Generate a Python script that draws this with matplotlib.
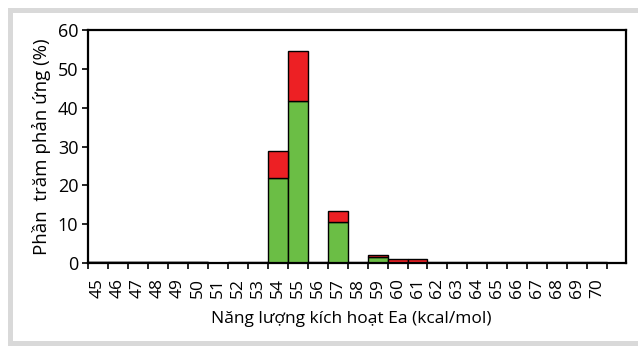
"""Stacked bar chart: reaction percentage vs activation energy."""

import matplotlib
matplotlib.use("Agg")
import matplotlib.pyplot as plt
from matplotlib.lines import Line2D
import numpy as np

energies = list(range(45, 71))
green_vals = [0.3, 0.3, 0.3, 0.3, 0.3, 0.3, 0.0, 0.0, 0.0, 21.8, 41.8, 0.0, 10.6,
              0.0, 1.6, 0.0, 0.0, 0.0, 0.0, 0.0, 0.0, 0.0, 0.0, 0.0, 0.0, 0.0]
red_vals = [0.0, 0.0, 0.0, 0.0, 0.0, 0.0, 0.0, 0.3, 0.3, 7.1, 12.7, 0.3, 2.7,
            0.3, 0.5, 1.0, 1.0, 0.3, 0.3, 0.3, 0.3, 0.3, 0.3, 0.3, 0.3, 0.3]

GREEN = "#6BBE45"
RED = "#ED2024"
FRAME = "#d9d9d9"

plt.rcParams["font.family"] = ["Open Sans", "DejaVu Sans"]

W, H = 638, 350
fig = plt.figure(figsize=(W / 100, H / 100), dpi=100)
fig.patch.set_facecolor("white")

# light gray frame (top, left, bottom; right side runs off the image)
lw = 3.6
for xs, ys in [((10, W), (9.5, 9.5)), ((10, 10), (9.5, 342.5)), ((10, W), (342.5, 342.5))]:
    fig.add_artist(Line2D([v / W for v in xs], [1 - v / H for v in ys],
                          transform=fig.transFigure, color=FRAME,
                          linewidth=lw, solid_capstyle="projecting"))

ax = fig.add_axes([88 / W, 87 / H, 538 / W, 233 / H])

x = np.arange(len(energies))
ax.bar(x, green_vals, width=1.0, color=GREEN, edgecolor="black", linewidth=1.0)
ax.bar(x, red_vals, width=1.0, bottom=green_vals, color=RED,
       edgecolor="black", linewidth=1.0)

ax.set_xlim(-0.35, 26.44)
ax.set_ylim(0, 60)
ax.set_yticks(range(0, 61, 10))

ax.set_xticks(x)
ax.set_xticklabels([str(e) for e in energies], rotation=90, fontsize=12.5)
ax.set_xticks(np.arange(-0.5, len(energies), 1.0), minor=True)
ax.tick_params(axis="x", which="major", length=0, pad=11)
ax.tick_params(axis="x", which="minor", length=4, width=1.2, direction="out")
ax.tick_params(axis="y", labelsize=13, length=4, width=1.2, direction="out", pad=3)

for s in ax.spines.values():
    s.set_linewidth(1.6)
    s.set_color("black")

ax.set_xlabel("Năng lượng kích hoạt Ea (kcal/mol)", fontsize=12.5, labelpad=9, x=0.49)
ax.set_ylabel("Phần  trăm phản ứng (%)", fontsize=13.5, labelpad=5)

fig.savefig("out.png", dpi=100, facecolor="white")
